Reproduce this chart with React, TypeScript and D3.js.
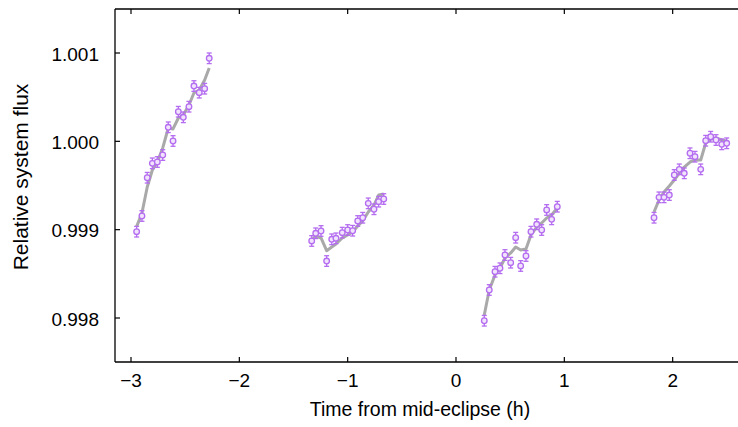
import React from "react";
import * as d3 from "d3";

const time1 = [-2.948, -2.899, -2.85, -2.803, -2.757, -2.707, -2.656, -2.612, -2.563, -2.517, -2.465, -2.419, -2.37, -2.32, -2.278];
const flux1 = [0.998977, 0.999155, 0.999588, 0.999751, 0.999766, 0.999845, 1.000159, 1.000004, 1.000335, 1.000272, 1.000392, 1.000626, 1.000551, 1.000596, 1.00094];
const model1 = [0.999034, 0.999189, 0.999483, 0.999675, 0.999766, 0.999925, 1.000151, 1.00014, 1.000264, 1.000298, 1.000411, 1.000547, 1.000581, 1.000694, 1.00083];

const time2 = [-1.332, -1.295, -1.246, -1.194, -1.147, -1.108, -1.05, -1.0, -0.954, -0.907, -0.861, -0.81, -0.757, -0.714, -0.667];
const flux2 = [0.998872, 0.998959, 0.998985, 0.998645, 0.998891, 0.998902, 0.998966, 0.998996, 0.998988, 0.999098, 0.999135, 0.999298, 0.999231, 0.999317, 0.999347];
const model2 = [0.998883, 0.998928, 0.998906, 0.998762, 0.998804, 0.998838, 0.998906, 0.99894, 0.998974, 0.999041, 0.999098, 0.9992, 0.999279, 0.999392, 0.999404];

const time3 = [0.261, 0.307, 0.36, 0.406, 0.452, 0.505, 0.551, 0.597, 0.646, 0.692, 0.745, 0.791, 0.837, 0.883, 0.935];
const flux3 = [0.997969, 0.998317, 0.998524, 0.998563, 0.998713, 0.998626, 0.998909, 0.998589, 0.998702, 0.998977, 0.999061, 0.998996, 0.999223, 0.999117, 0.99926];
const model3 = [0.998034, 0.998317, 0.998487, 0.998566, 0.998679, 0.998736, 0.998804, 0.99877, 0.998781, 0.99894, 0.99903, 0.999075, 0.999132, 0.999166, 0.999245];

const time4 = [1.828, 1.874, 1.92, 1.969, 2.015, 2.061, 2.107, 2.16, 2.206, 2.259, 2.305, 2.351, 2.4, 2.453, 2.499];
const flux4 = [0.999135, 0.999366, 0.999366, 0.999392, 0.999619, 0.999683, 0.999638, 0.999865, 0.999826, 0.999683, 1.000007, 1.000052, 1.000015, 0.999966, 0.999978];
const model4 = [0.9992, 0.999336, 0.999426, 0.999494, 0.999562, 0.999641, 0.999709, 0.999766, 0.999789, 0.999789, 0.999981, 1.000026, 1.000038, 1.000015, 1.000004];

const fluxErr = 0.00006;

const xTicks = [-3, -2, -1, 0, 1, 2];
const yTicks = [0.998, 0.999, 1.0, 1.001];
const yTickLabels = ["0.998", "0.999", "1.000", "1.001"];

const xLabel = "Time from mid-eclipse (h)";
const yLabel = "Relative system flux";

const W = 738;
const H = 427;
const left = 115;
const right = 745;
const top = 9;
const bottom = 362;

export default function App() {
  const x = d3.scaleLinear().domain([-3, 0]).range([131, 456]);
  const y = d3.scaleLinear().domain([0.998, 1.001]).range([318, 53]);

  const segments = [
    { t: time1, f: flux1, m: model1 },
    { t: time2, f: flux2, m: model2 },
    { t: time3, f: flux3, m: model3 },
    { t: time4, f: flux4, m: model4 },
  ];

  const line = d3
    .line<[number, number]>()
    .x((d) => x(d[0]))
    .y((d) => y(d[1]));

  const purple = "#b46cf0";
  const font = "'Liberation Sans', Arial, Helvetica, sans-serif";

  return (
    <svg
      width={W}
      height={H}
      style={{ position: "absolute", left: 0, top: 0, background: "#fff" }}
      fontFamily={font}
    >
      <defs>
        <clipPath id="plotclip">
          <rect x={left} y={top} width={right - left} height={bottom - top} />
        </clipPath>
      </defs>

      <g clipPath="url(#plotclip)">
        {segments.map((s, i) => (
          <path
            key={"m" + i}
            d={line(s.t.map((t, j) => [t, s.m[j]] as [number, number])) || ""}
            fill="none"
            stroke="#a9a9a9"
            strokeWidth={3}
            strokeLinejoin="round"
          />
        ))}
        {segments.map((s, i) =>
          s.t.map((t, j) => {
            const cx = x(t);
            const cy = y(s.f[j]);
            const y0 = y(s.f[j] - fluxErr);
            const y1 = y(s.f[j] + fluxErr);
            return (
              <g key={"p" + i + "-" + j} stroke={purple} strokeWidth={1.3}>
                <line x1={cx} x2={cx} y1={y0} y2={y1} />
                <line x1={cx - 2.5} x2={cx + 2.5} y1={y0} y2={y0} />
                <line x1={cx - 2.5} x2={cx + 2.5} y1={y1} y2={y1} />
                <circle cx={cx} cy={cy} r={2.8} fill="#f1e3fc" />
              </g>
            );
          })
        )}
      </g>

      <line x1={left} x2={right} y1={bottom} y2={bottom} stroke="#000" strokeWidth={1.3} />
      <line x1={left} x2={right} y1={top} y2={top} stroke="#000" strokeWidth={1.3} />
      <line x1={left} x2={left} y1={top} y2={bottom} stroke="#000" strokeWidth={1.3} />

      {xTicks.map((t) => (
        <g key={"xt" + t}>
          <line x1={x(t)} x2={x(t)} y1={bottom} y2={bottom - 5} stroke="#000" strokeWidth={1.2} />
          <line x1={x(t)} x2={x(t)} y1={top} y2={top + 5} stroke="#000" strokeWidth={1.2} />
          <text x={x(t)} y={bottom + 25} textAnchor="middle" fontSize={19} fill="#000">
            {t < 0 ? "\u2212" + Math.abs(t) : String(t)}
          </text>
        </g>
      ))}

      {yTicks.map((v, i) => (
        <g key={"yt" + i}>
          <line x1={left} x2={left + 5} y1={y(v)} y2={y(v)} stroke="#000" strokeWidth={1.2} />
          <text x={left - 16} y={y(v) + 7.5} textAnchor="end" fontSize={19} fill="#000">
            {yTickLabels[i]}
          </text>
        </g>
      ))}

      <text x={420} y={416} textAnchor="middle" fontSize={19.5} fill="#000">
        {xLabel}
      </text>
      <text
        transform={`translate(28, 177) rotate(-90)`}
        textAnchor="middle"
        fontSize={21}
        fill="#000"
      >
        {yLabel}
      </text>
    </svg>
  );
}
